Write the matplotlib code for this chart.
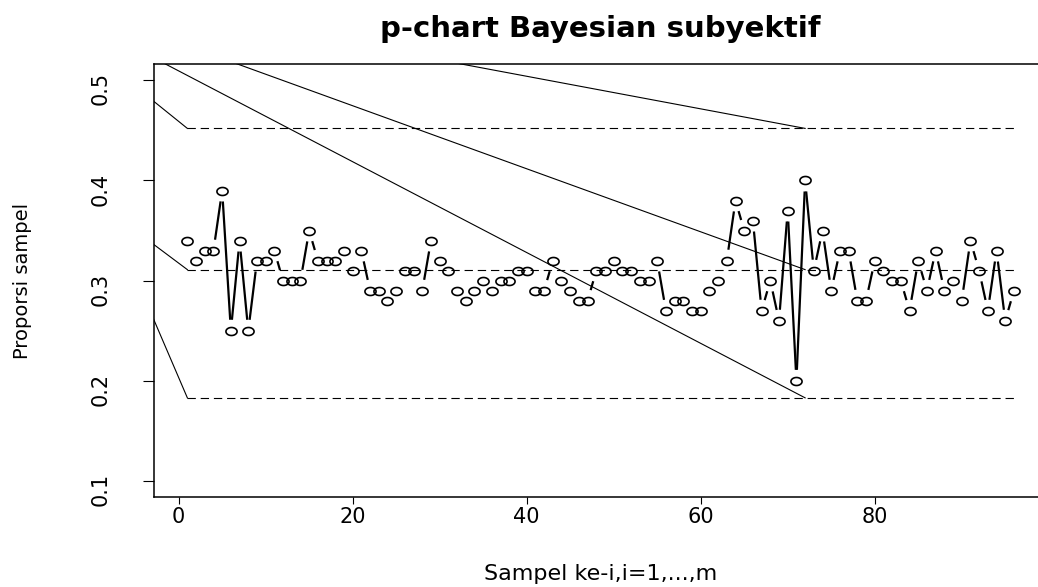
import numpy as np
import matplotlib
matplotlib.use("Agg")
from matplotlib import pyplot as plt
from matplotlib.path import Path

# proporsi sampel ke-1 .. ke-96
proporsi = [0.34, 0.32, 0.33, 0.33, 0.39, 0.25, 0.34, 0.25, 0.32, 0.32,
            0.33, 0.30, 0.30, 0.30, 0.35, 0.32, 0.32, 0.32, 0.33, 0.31,
            0.33, 0.29, 0.29, 0.28, 0.29, 0.31, 0.31, 0.29, 0.34, 0.32,
            0.31, 0.29, 0.28, 0.29, 0.30, 0.29, 0.30, 0.30, 0.31, 0.31,
            0.29, 0.29, 0.32, 0.30, 0.29, 0.28, 0.28, 0.31, 0.31, 0.32,
            0.31, 0.31, 0.30, 0.30, 0.32, 0.27, 0.28, 0.28, 0.27, 0.27,
            0.29, 0.30, 0.32, 0.38, 0.35, 0.36, 0.27, 0.30, 0.26, 0.37,
            0.20, 0.40, 0.31, 0.35, 0.29, 0.33, 0.33, 0.28, 0.28, 0.32,
            0.31, 0.30, 0.30, 0.27, 0.32, 0.29, 0.33, 0.29, 0.30, 0.28,
            0.34, 0.31, 0.27, 0.33, 0.26, 0.29]
sampel = np.arange(1, len(proporsi) + 1)

# batas kendali (UCL, CL, LCL)
batas = [0.452, 0.311, 0.183]
# nilai garis batas di titik awal x = -3 (sebelum sampel 1)
batas_awal_x = -3
batas_awal = [0.480, 0.337, 0.264]
# garis diagonal dari x = -3 menuju sampel ke-72
diag_akhir_x = 72
diag_awal = [0.574, 0.547, 0.523]
diag_akhir = [0.452, 0.311, 0.183]

yticks = [0.1, 0.2, 0.3, 0.4, 0.5]
xticks = [0, 20, 40, 60, 80]

plt.rcParams['font.family'] = ['DejaVu Sans']
plt.rcParams['lines.scale_dashes'] = False

W, H = 1038, 587
fig = plt.figure(figsize=(W / 100, H / 100), dpi=100)
ax = fig.add_axes([154.3 / W, 1 - 497 / H, (1047 - 154.3) / W, (497 - 64.3) / H])

n = len(proporsi)
ax.set_xlim(1 - 0.04 * (n - 1), n + 0.04 * (n - 1))
ax.set_ylim(0.1 - 0.04 * 0.4, 0.5 + 0.04 * 0.4)

# garis batas kendali
for a, b in zip(batas_awal, batas):
    ax.plot([batas_awal_x, 1], [a, b], color='black', lw=0.8)
    ax.plot([1, n], [b, b], color='black', lw=0.8, dashes=(6, 3.5))
for a, b in zip(diag_awal, diag_akhir):
    ax.plot([batas_awal_x, diag_akhir_x], [a, b], color='black', lw=0.8)

# titik seperti pch="o" (sedikit lonjong)
t = np.linspace(0, 2 * np.pi, 60)
lonjong = Path(np.column_stack([np.cos(t), 0.72 * np.sin(t)]), closed=True)
ax.plot(sampel, proporsi, linestyle='none', marker=lonjong, markersize=8,
        markerfacecolor='none', markeredgecolor='black', markeredgewidth=1.2)

# garis antar titik dengan celah (type = "b")
gap = 11.0
pts = ax.transData.transform(np.column_stack([sampel, proporsi]))
inv = ax.transData.inverted()
for p, q in zip(pts[:-1], pts[1:]):
    d = q - p
    L = np.hypot(d[0], d[1])
    if L <= 2 * gap:
        continue
    u = d / L
    seg = inv.transform(np.array([p + u * gap, q - u * gap]))
    ax.plot(seg[:, 0], seg[:, 1], color='black', lw=1.6, solid_capstyle='butt')

ax.set_xticks(xticks)
ax.set_yticks(yticks)
ax.set_yticklabels([str(v) for v in yticks])
ax.tick_params(axis='both', direction='out', length=7.8, width=0.8, labelsize=15)
ax.tick_params(axis='y', labelrotation=90, pad=24)
ax.tick_params(axis='x', length=5, pad=2)
for s in ax.spines.values():
    s.set_linewidth(1.1)

ax.set_title('p-chart Bayesian subyektif', fontsize=21, fontweight='bold', pad=20)
ax.set_xlabel('Sampel ke-i,i=1,...,m', fontsize=16)
ax.set_ylabel('Proporsi sampel', fontsize=14)
ax.xaxis.set_label_coords(0.5, -0.155)
ax.yaxis.set_label_coords(-0.137, 0.5)

fig.savefig('out.png', dpi=100)
